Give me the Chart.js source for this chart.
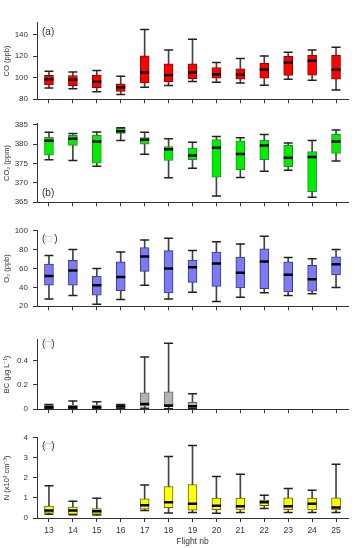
<!DOCTYPE html>
<html>
<head>
<meta charset="utf-8">
<script src="https://cdn.jsdelivr.net/npm/chart.js@4.4.1/dist/chart.umd.min.js"></script>
<style>
  body { margin: 0; background: #fff; }
  #wrap { position: relative; width: 355px; height: 548px; }
  .panel { position: absolute; left: 0; width: 355px; }
</style>
</head>
<body>
<div id="wrap">
  <div class="panel" style="top:13px;height:96px"><canvas id="cCO"></canvas></div>
  <div class="panel" style="top:114px;height:98px"><canvas id="cCO2"></canvas></div>
  <div class="panel" style="top:221px;height:95px"><canvas id="cO3"></canvas></div>
  <div class="panel" style="top:330px;height:89px"><canvas id="cBC"></canvas></div>
  <div class="panel" style="top:428px;height:120px"><canvas id="cN"></canvas></div>
</div>
<script>
// flight numbers on the shared x axis
const flights = ['13', '14', '15', '16', '17', '18', '19', '20', '21', '22', '23', '24', '25'];

// each row: [low whisker, q1, median, q3, high whisker]
const coStats = [
  [90.4, 93.3, 98.5, 102.2, 106.0],
  [89.7, 92.5, 98.0, 102.0, 105.3],
  [87.0, 90.7, 96.2, 102.4, 106.6],
  [84.4, 87.3, 91.2, 94.3, 101.4],
  [91.2, 95.1, 104.8, 120.4, 144.7],
  [92.8, 96.4, 102.2, 112.9, 125.7],
  [96.4, 99.0, 104.8, 112.9, 135.8],
  [95.7, 99.6, 103.2, 109.5, 114.2],
  [95.1, 98.5, 103.0, 108.2, 117.8],
  [93.0, 99.6, 107.7, 113.4, 120.2],
  [98.5, 102.2, 114.2, 119.9, 123.6],
  [97.7, 102.4, 115.7, 120.7, 125.7],
  [88.6, 98.5, 107.4, 120.7, 128.3]
];

const co2Stats = [
  [376.0, 377.2, 380.9, 381.8, 383.1],
  [375.8, 379.7, 381.4, 382.3, 382.8],
  [374.3, 375.1, 380.7, 382.3, 383.2],
  [381.0, 382.8, 383.4, 384.2, 384.3],
  [377.4, 380.0, 381.2, 381.7, 383.1],
  [371.3, 375.8, 378.7, 379.4, 381.4],
  [373.8, 376.0, 377.1, 379.0, 380.5],
  [366.6, 371.5, 379.1, 381.2, 382.0],
  [371.4, 373.4, 377.5, 380.9, 381.7],
  [373.0, 376.0, 379.7, 381.1, 382.5],
  [373.3, 374.2, 376.5, 379.7, 380.3],
  [366.3, 367.7, 376.7, 378.1, 381.0],
  [375.7, 377.6, 380.7, 382.6, 383.7]
];

const o3Stats = [
  [27.7, 42.2, 52.0, 64.7, 73.9],
  [31.3, 42.2, 57.9, 68.6, 80.1],
  [22.1, 31.6, 42.2, 52.0, 60.0],
  [27.1, 36.6, 51.1, 67.1, 77.5],
  [42.2, 57.0, 72.7, 82.2, 90.2],
  [27.7, 34.2, 60.0, 79.0, 92.0],
  [34.8, 45.2, 61.2, 68.9, 79.0],
  [25.0, 41.0, 65.3, 77.5, 88.4],
  [29.5, 39.3, 55.6, 72.1, 86.1],
  [34.2, 38.7, 67.4, 81.0, 94.1],
  [31.3, 35.1, 53.5, 67.1, 71.6],
  [33.3, 36.0, 48.7, 63.3, 70.4],
  [39.9, 53.2, 64.4, 72.4, 80.1]
];

const bcStats = [
  [0.002, 0.005, 0.016, 0.034, 0.038],
  [0.002, 0.005, 0.016, 0.034, 0.067],
  [0.002, 0.006, 0.016, 0.034, 0.061],
  [0.003, 0.007, 0.022, 0.034, 0.038],
  [0.007, 0.025, 0.043, 0.135, 0.429],
  [0.004, 0.018, 0.031, 0.142, 0.542],
  [0.004, 0.009, 0.025, 0.056, 0.126],
  null, null, null, null, null, null
];

const nStats = [
  [0.19, 0.24, 0.38, 0.59, 1.61],
  [0.16, 0.19, 0.37, 0.55, 0.84],
  [0.15, 0.19, 0.34, 0.47, 0.99],
  null,
  [0.37, 0.44, 0.64, 0.96, 1.64],
  [0.25, 0.52, 0.79, 1.57, 3.07],
  [0.28, 0.39, 0.71, 1.67, 3.61],
  [0.24, 0.41, 0.61, 0.99, 2.07],
  [0.28, 0.40, 0.58, 0.99, 2.18],
  [0.47, 0.62, 0.79, 0.90, 1.14],
  [0.28, 0.41, 0.59, 1.01, 1.47],
  [0.28, 0.40, 0.71, 0.99, 1.39],
  [0.28, 0.40, 0.52, 1.01, 2.68]
];

const FONT = '"Liberation Sans", Arial, sans-serif';
const INK = '#333';

// draws the "(a)" style tag inside the plot area
function tagPlugin(parts, dy, fromBottom) {
  return {
    id: 'panelTag',
    afterDraw(chart) {
      const { ctx, chartArea } = chart;
      ctx.save();
      ctx.font = '10px ' + FONT;
      ctx.textBaseline = 'middle';
      let x = chartArea.left + 5;
      const y = fromBottom ? chartArea.bottom - dy : chartArea.top + dy;
      parts.forEach(([t, c]) => {
        ctx.fillStyle = c;
        ctx.fillText(t, x, y);
        x += ctx.measureText(t).width;
      });
      ctx.restore();
    }
  };
}

function makePanel(id, stats, cfg) {
  const pick = k => stats.map(s => s ? s[k] : null);
  const span = (a, b) => stats.map(s => s ? [s[a], s[b]] : null);
  const last = !!cfg.xTitle;

  const capStyle = { type: 'line', showLine: false, pointStyle: 'line', pointRadius: 4.5,
    pointBorderWidth: 1.5, pointBorderColor: '#222', pointBackgroundColor: '#222', order: 1 };

  new Chart(document.getElementById(id), {
    type: 'bar',
    data: {
      labels: flights,
      datasets: [
        { type: 'line', data: pick(2), showLine: false, pointStyle: 'line', pointRadius: 4.5,
          pointBorderWidth: 2.5, pointBorderColor: '#000', pointBackgroundColor: '#000', order: 0 },
        Object.assign({ data: pick(0) }, capStyle),
        Object.assign({ data: pick(4) }, capStyle),
        { data: span(1, 3), backgroundColor: cfg.fill, borderColor: cfg.edge, borderWidth: 1,
          borderSkipped: false, barThickness: 9, grouped: false, order: 2 },
        { data: span(0, 4), backgroundColor: '#444', barThickness: 1, grouped: false, order: 3 }
      ]
    },
    options: {
      responsive: true,
      maintainAspectRatio: false,
      animation: false,
      events: [],
      layout: { padding: { top: 0, right: 2, bottom: 0, left: 0 } },
      plugins: { legend: { display: false }, tooltip: { enabled: false } },
      scales: {
        x: {
          offset: true,
          grid: { offset: false, drawOnChartArea: false, drawTicks: true, tickLength: 4, color: INK },
          border: { display: true, color: INK, width: 1 },
          ticks: { display: last, color: INK, padding: 4, font: { family: FONT, size: 8.5 }, maxRotation: 0 },
          title: { display: last, text: cfg.xTitle || '', color: INK,
            font: { family: FONT, size: 8.5 }, padding: { top: 0, bottom: 1 } },
          afterFit: s => { s.height = last ? 30 : 5; }
        },
        y: {
          min: cfg.min,
          max: cfg.max,
          grid: { drawOnChartArea: false, drawTicks: true, tickLength: 4, color: INK },
          border: { display: true, color: INK, width: 1 },
          ticks: { stepSize: cfg.step, includeBounds: false, color: INK, padding: 5,
            font: { family: FONT, size: 8 }, callback: cfg.fmt || (v => v) },
          title: { display: true, text: cfg.yTitle, color: INK,
            font: { family: FONT, size: 7.5 }, padding: { top: 2.5, bottom: 0 } },
          afterFit: s => { s.width = 37; }
        }
      }
    },
    plugins: [tagPlugin(cfg.tag, cfg.tagDy, cfg.tagBottom)]
  });
}

const box = '\u25A1';

makePanel('cCO', coStats, { fill: '#ff0000', edge: '#9a0000', min: 80, max: 151, step: 20,
  yTitle: 'CO (ppb)', tag: [['(a)', INK]], tagDy: 9 });
makePanel('cCO2', co2Stats, { fill: '#00ee00', edge: '#2a8a2a', min: 365, max: 385.3, step: 5,
  yTitle: 'CO\u2082 (ppm)', tag: [['(b)', INK]], tagDy: 9, tagBottom: true });
makePanel('cO3', o3Stats, { fill: '#7b7bf5', edge: '#3a3a80', min: 20, max: 100, step: 20,
  yTitle: 'O\u2083 (ppb)', tag: [['(', INK], [box, '#aaa'], [' )', INK]], tagDy: 8 });
makePanel('cBC', bcStats, { fill: '#b4b4b4', edge: '#666', min: 0, max: 0.57, step: 0.2,
  fmt: v => (Math.abs(v) < 1e-9 ? '0' : v.toFixed(1)),
  yTitle: 'BC (\u00B5g L\u207B\u00B9)', tag: [['(', INK], [box, '#aaa'], [')', INK]], tagDy: 4 });
makePanel('cN', nStats, { fill: '#ffff00', edge: '#666600', min: 0, max: 4, step: 1,
  yTitle: 'N (x10\u00B3 cm\u207B\u00B3)', xTitle: 'Flight nb',
  tag: [['(', INK], [box, '#aaa'], [')', INK]], tagDy: 8 });
</script>
</body>
</html>
